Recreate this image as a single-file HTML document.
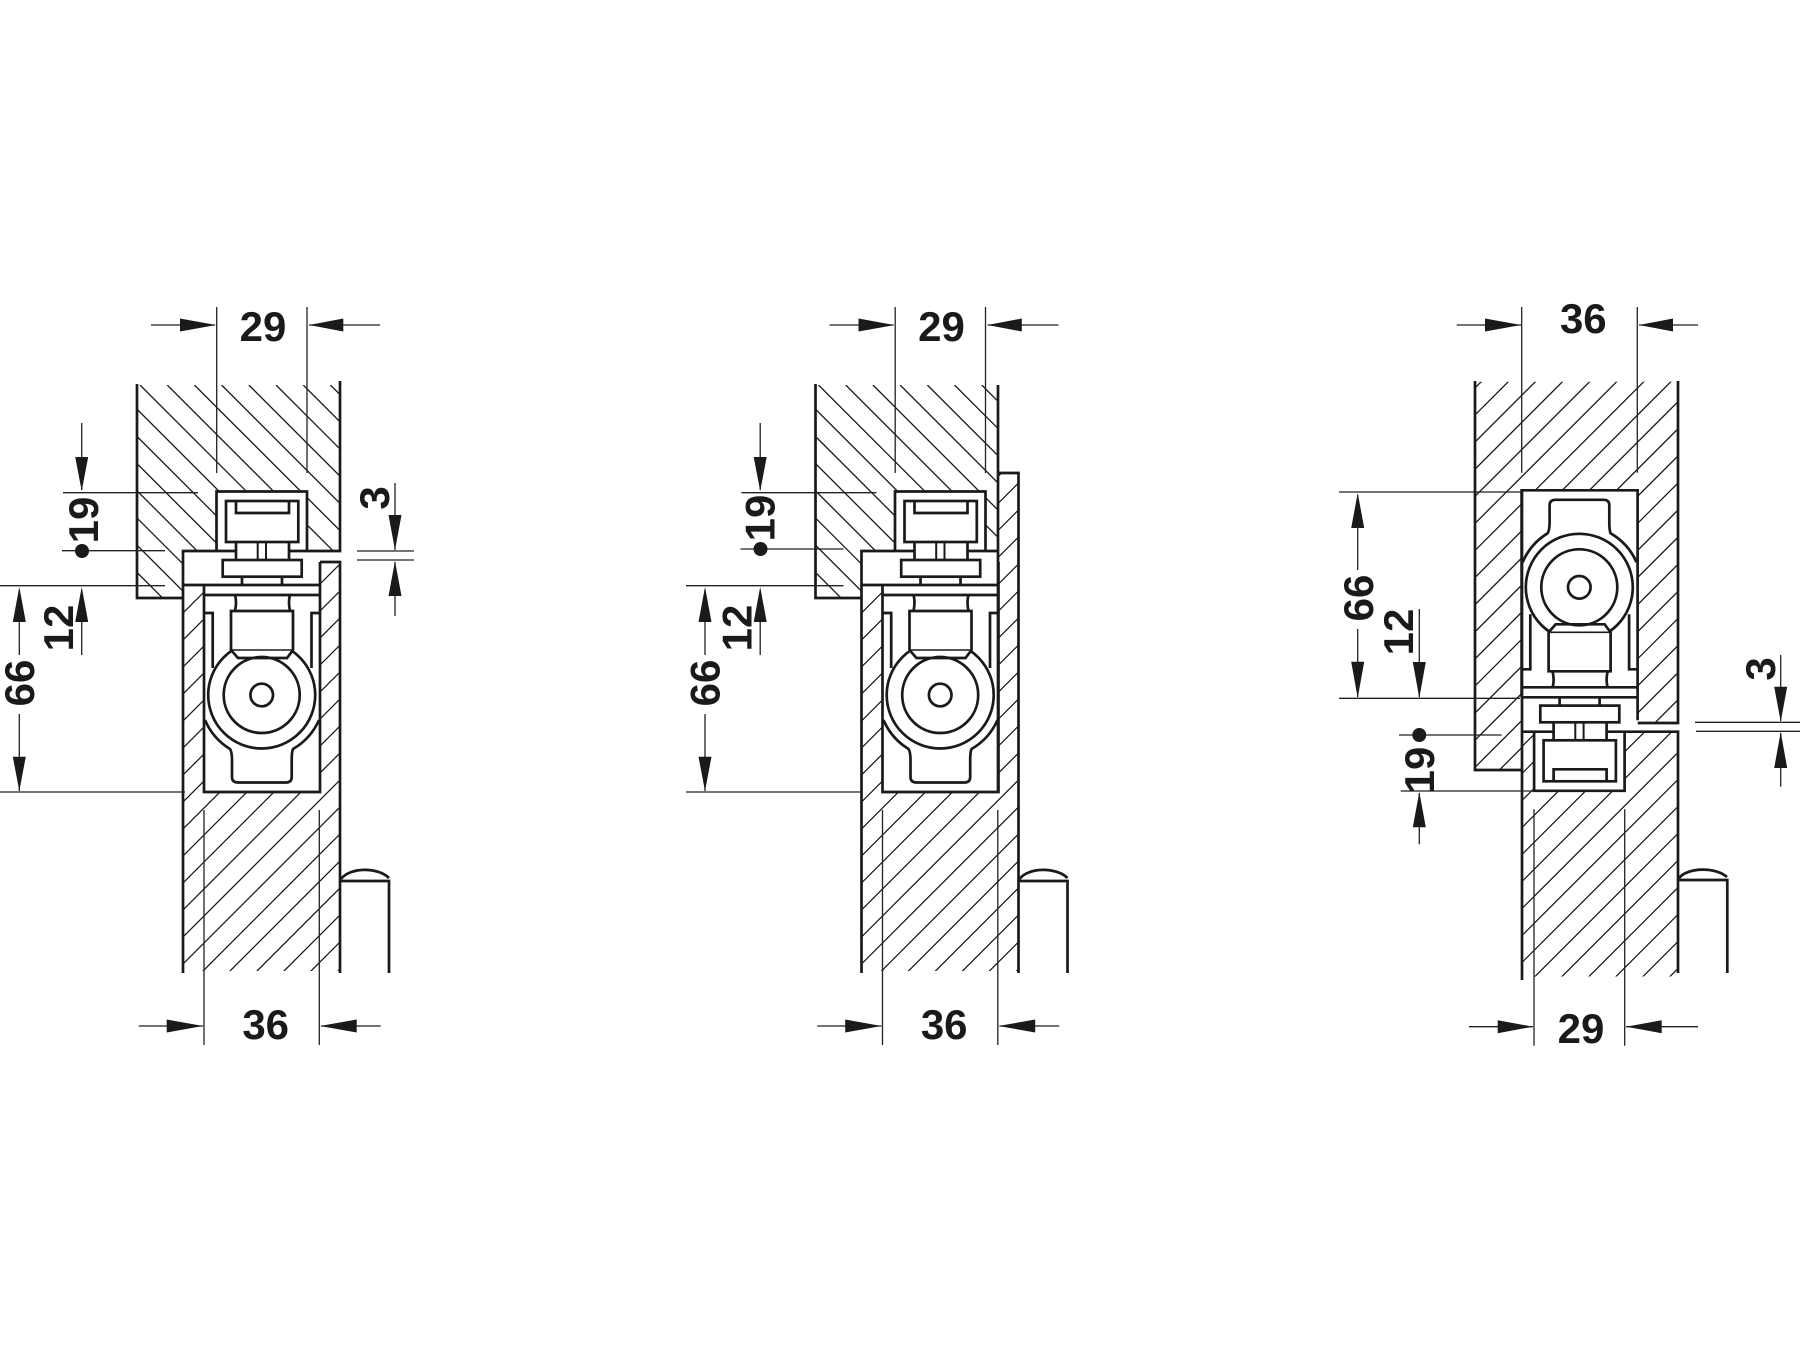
<!DOCTYPE html>
<html><head><meta charset="utf-8"><style>
html,body{margin:0;padding:0;background:#fff}
svg{display:block}
.t{stroke:#1a1a1a;stroke-width:2.7;fill:none}
.h{stroke:#1a1a1a;stroke-width:1.3;fill:none}
.d{stroke:#222;stroke-width:1.3;fill:none}
.a{fill:#1a1a1a;stroke:none}
text{font:bold 42px "Liberation Sans",sans-serif;fill:#1a1a1a;text-anchor:middle}
</style></head><body>
<svg width="1800" height="1350" viewBox="0 0 1800 1350" xmlns="http://www.w3.org/2000/svg">
<defs>
<path id="hd" class="h" d="M-77.6 385l300 300M-50.4 385l300 300M-23.2 385l300 300M4 385l300 300M31.2 385l300 300M58.4 385l300 300M85.6 385l300 300M112.8 385l300 300M140 385l300 300M167.2 385l300 300M194.4 385l300 300M221.6 385l300 300M248.8 385l300 300M276 385l300 300M303.2 385l300 300M330.4 385l300 300"/>
<path id="hu" class="h" d="M-258 1000l1000-1000M-231 1000l1000-1000M-204 1000l1000-1000M-177 1000l1000-1000M-150 1000l1000-1000M-123 1000l1000-1000M-96 1000l1000-1000M-69 1000l1000-1000M-42 1000l1000-1000M-15 1000l1000-1000M12 1000l1000-1000M39 1000l1000-1000M66 1000l1000-1000M93 1000l1000-1000M120 1000l1000-1000M147 1000l1000-1000M174 1000l1000-1000M201 1000l1000-1000M228 1000l1000-1000M255 1000l1000-1000M282 1000l1000-1000M309 1000l1000-1000"/>
<clipPath id="c1t"><polygon points="137,385 340,385 340,551 307,551 307,491 217,491 217,551 183,551 183,598 137,598"/></clipPath>
<clipPath id="c1l"><polygon points="183,586 204,586 204,792 320,792 320,562 340,562 340,971 183,971"/></clipPath>
<clipPath id="c2t"><polygon points="137,385 319.5,385 319.5,551 307,551 307,491 217,491 217,551 183,551 183,598 137,598"/></clipPath>
<clipPath id="c2l"><polygon points="183,586 204,586 204,792 320,792 320,473 340,473 340,971 183,971"/></clipPath>
<clipPath id="c3t"><polygon points="1475,381.7 1678,381.7 1678,723 1637.7,723 1637.7,491 1522,491 1522,770 1475,770"/></clipPath>
<clipPath id="c3l"><polygon points="1522,732 1533.5,732 1533.5,791 1625,791 1625,732 1678,732 1678,976.5 1522,976.5"/></clipPath>
<g id="mech">
  <path class="t" d="M216.5 551V491.5H307V551"/>
  <rect class="t" x="226" y="501" width="72.3" height="41"/>
  <path class="t" d="M236 501V513H289V501M236 542V560M289 542V560"/>
  <path d="M257.7 542V560M266 542V560" stroke="#1a1a1a" stroke-width="2" fill="none"/>
  <rect class="t" x="222.7" y="560" width="79" height="16.7"/>
  <path class="t" d="M242 577V585M282 577V585M204 585H320M204 595H320M204 585V792H320V562"/>
  <path class="t" d="M235 595Q237 602 235 611M290 595Q288 602 290 611"/>
  <circle class="t" cx="261.7" cy="695" r="53.5"/>
  <path d="M231 611H293V650L287 658H238L231 650Z" fill="#fff" stroke="#1a1a1a" stroke-width="2.7"/>
  <path d="M231 650H293" stroke="#1a1a1a" stroke-width="1.6"/>
  <circle class="t" cx="261.7" cy="695" r="38"/>
  <circle class="t" cx="261.7" cy="695" r="11.3"/>
  <path class="t" d="M205 720A62.7 62.7 0 0 0 230 749Q232 752 232 760V777Q232 782.5 238 782.5H286Q291.7 782.5 291.7 777V760Q291.7 752 293 749A62.7 62.7 0 0 0 319 720"/>
  <path class="t" d="M204 613H212.7V668M320 613H311.5V668"/>
</g>
</defs>
<rect width="1800" height="1350" fill="#fff"/>

<!-- Drawing 1 -->
<use href="#hd" clip-path="url(#c1t)"/>
<use href="#hu" clip-path="url(#c1l)"/>
<path class="t" d="M137 384V598H183M340 381V551H289M236 551H183V973M183 585H204M320 562H340V973"/>
<path class="t" stroke-width="2.5" d="M340 881H389V973M341 879C350 867 378 867 389 878"/>
<use href="#mech"/>
<path class="d" d="M216.7 307V473M307 307V473M151 325H215M380 325H309M63 492.7H198M62 550.7H165M81.7 423V490M0 585.7H165M0 792H185M81.7 590V655M19.3 590V655M19.3 714V791M395 483V550M357 551H414M357 560H414M395 562V616M204 810V1045M319.3 810V1045M138.7 1026H203M380.7 1026H321"/>
<path class="a" d="M216 325L180 318.5V331.5ZM309 325L343.3 318.5V331.5ZM81.7 491L75.2 457H88.2ZM81.7 587L75.2 622H88.2ZM19.3 587L12.8 622H25.8ZM19.3 791L12.8 756.7H25.8ZM395 550L388.5 515H401.5ZM395 561L388.5 596H401.5ZM203 1026L166.7 1019.5V1032.5ZM320 1026L356.7 1019.5V1032.5Z"/>
<circle class="a" cx="82" cy="551" r="7"/>
<text x="263" y="341">29</text>
<text x="265.7" y="1039">36</text>
<text transform="translate(98,520) rotate(-90)">19</text>
<text transform="translate(389,498) rotate(-90)">3</text>
<text transform="translate(73,628) rotate(-90)">12</text>
<text transform="translate(34,683) rotate(-90)">66</text>

<!-- Drawing 2 -->
<g transform="translate(678.5,0)">
<use href="#hd" clip-path="url(#c2t)"/>
<use href="#hu" clip-path="url(#c2l)"/>
<path class="t" d="M137 384V598H183M319.5 385V792M319.5 551H289M236 551H183V973M183 585H204M320 473H340V973"/>
<path class="t" stroke-width="2.5" d="M340 881H389V973M341 879C350 867 378 867 389 878"/>
<use href="#mech"/>
<path class="d" d="M216.7 307V473M307 307V473M151 325H215M380 325H309M63 492.7H198M62 549H165M81.7 423V490M7.5 585.7H165M7.5 792H183M81.7 590V655M26.5 590V655M26.5 714V791M204 810V1045M319.3 810V1045M138.7 1026H203M380.7 1026H321"/>
<path class="a" d="M216 325L180 318.5V331.5ZM309 325L343.3 318.5V331.5ZM81.7 491L75.2 457H88.2ZM81.7 587L75.2 622H88.2ZM26.5 587L20 622H33ZM26.5 791L20 756.7H33ZM203 1026L166.7 1019.5V1032.5ZM320 1026L356.7 1019.5V1032.5Z"/>
<circle class="a" cx="82" cy="549" r="7"/>
<text x="263" y="341">29</text>
<text x="265.7" y="1039">36</text>
<text transform="translate(96,518) rotate(-90)">19</text>
<text transform="translate(73,628) rotate(-90)">12</text>
<text transform="translate(41,683) rotate(-90)">66</text>
</g>

<!-- Drawing 3 -->
<g clip-path="url(#c3t)"><path class="h" d="M835.8 1000l1000-1000M862.9 1000l1000-1000M890 1000l1000-1000M917.1 1000l1000-1000M944.2 1000l1000-1000M971.3 1000l1000-1000M998.4 1000l1000-1000M1025.5 1000l1000-1000M1052.6 1000l1000-1000M1079.7 1000l1000-1000M1106.8 1000l1000-1000M1133.9 1000l1000-1000M1161 1000l1000-1000M1188.1 1000l1000-1000M1215.2 1000l1000-1000M1242.3 1000l1000-1000M1269.4 1000l1000-1000M1296.5 1000l1000-1000M1323.6 1000l1000-1000M1350.7 1000l1000-1000M1377.8 1000l1000-1000M1404.9 1000l1000-1000M1432 1000l1000-1000"/></g>
<g clip-path="url(#c3l)"><path class="h" d="M1241.5 1000l1000-1000M1268.5 1000l1000-1000M1295.5 1000l1000-1000M1322.5 1000l1000-1000M1349.5 1000l1000-1000M1376.5 1000l1000-1000M1403.5 1000l1000-1000M1430.5 1000l1000-1000M1457.5 1000l1000-1000M1484.5 1000l1000-1000M1511.5 1000l1000-1000M1538.5 1000l1000-1000M1565.5 1000l1000-1000M1592.5 1000l1000-1000M1619.5 1000l1000-1000M1646.5 1000l1000-1000"/></g>
<path class="t" d="M1475 381V770H1522M1678 381V723H1637.7M1522 491V980M1522 731.7H1553.6M1606.6 731.7H1678V973"/>
<path class="t" stroke-width="2.5" d="M1678 880H1727.3V973M1679 878C1688 867 1716 867 1727 877"/>
<use href="#mech" transform="translate(1317.6,1282.3) scale(1,-1)"/>
<path class="d" d="M1521.7 307V472.7M1637.3 307V472.7M1456.7 325H1521M1698 325H1639M1339 492H1522M1339 698.3H1520M1357.7 495V570M1357.7 629V697M1419.3 609V697M1780.7 655V721M1780.7 733V786.7M1695 722.3H1800M1696 731.3H1800M1399 735H1501.7M1400.7 791H1533M1419.3 793V844.3M1534 809.3V1045.7M1624.7 809.3V1045.7M1469 1026.7H1533M1698 1026.7H1626"/>
<path class="a" d="M1521 325L1485 318.5V331.5ZM1639 325L1673 318.5V331.5ZM1357.7 493L1351.2 528H1364.2ZM1357.7 698L1351.2 661.7H1364.2ZM1419.3 698L1412.8 662H1425.8ZM1780.7 721.7L1774.2 686.7H1787.2ZM1780.7 732L1774.2 768H1787.2ZM1419.3 792L1412.8 827.3H1425.8ZM1533 1026.7L1497.7 1020.2V1033.2ZM1626 1026.7L1661.7 1020.2V1033.2Z"/>
<circle class="a" cx="1419.3" cy="735" r="7"/>
<text x="1583.3" y="333">36</text>
<text x="1581" y="1043">29</text>
<text transform="translate(1373,598) rotate(-90)">66</text>
<text transform="translate(1413,632) rotate(-90)">12</text>
<text transform="translate(1775,669) rotate(-90)">3</text>
<text transform="translate(1434,770) rotate(-90)">19</text>
</svg>
</body></html>
